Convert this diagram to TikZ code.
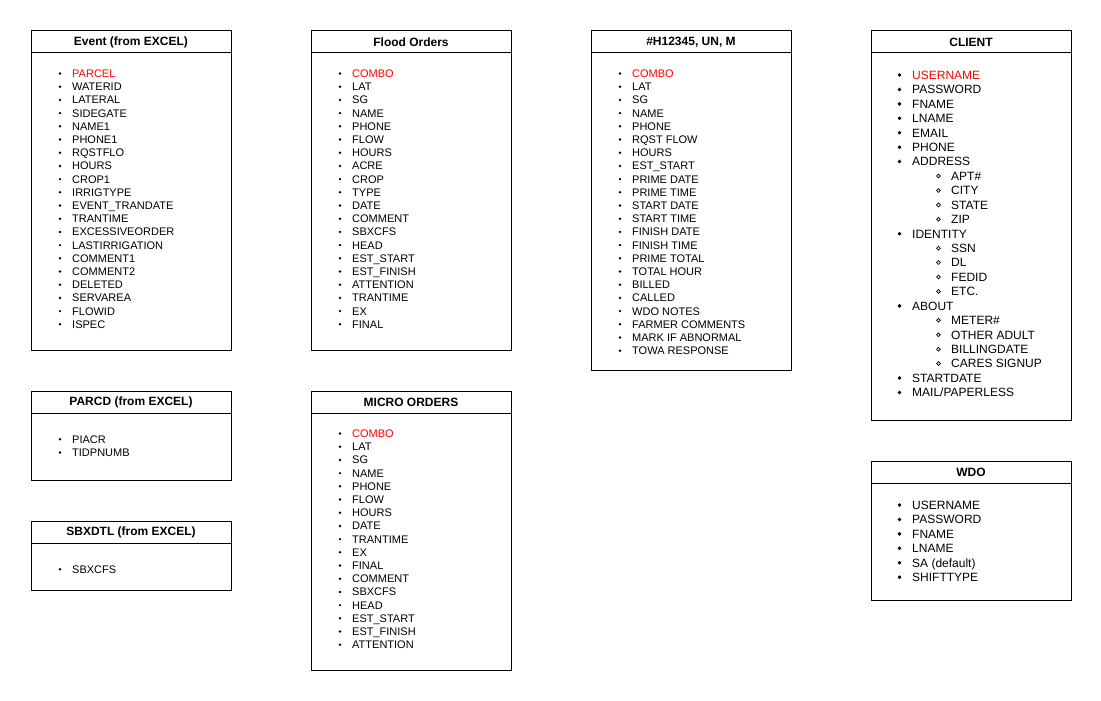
\documentclass[tikz,border=0pt]{standalone}
\usepackage{fontspec}
\setmainfont{Liberation Sans}
\usetikzlibrary{positioning}

\begin{document}
\begin{tikzpicture}[x=1pt,y=-1pt]
    \tikzstyle{head}=[draw,line width=1pt,minimum width=200pt,minimum height=22pt,inner sep=0pt,outer sep=0pt,anchor=north west,font=\fontsize{12}{14}\selectfont\bfseries]
    \tikzstyle{body}=[draw,line width=1pt,minimum width=200pt,inner sep=0pt,outer sep=0pt,below=0pt of #1]
    \tikzstyle{field}=[anchor=west,inner sep=0pt,text height=8pt,text depth=0pt,font=\fontsize{11}{13}\selectfont]
    \tikzstyle{cfield}=[anchor=west,inner sep=0pt,text height=8.6pt,text depth=0pt,font=\fontsize{12}{14}\selectfont]
    \tikzstyle{keyred}=[text=red]
    \tikzstyle{bulletdot}=[fill=black]
    \tikzstyle{bulletring}=[draw=black,line width=.7pt]
    \useasboundingbox (0,0) rectangle (1101,701);

    % Event (from EXCEL)
    \node[head] (evh) at (31,31) {Event (from EXCEL)};
    \node[body=evh,minimum height=297pt] (evb) {};
    \node[field,keyred] (ev0) at (72,73.5) {PARCEL};
    \foreach \t [count=\i] in {WATERID,LATERAL,SIDEGATE,NAME1,PHONE1,RQSTFLO,HOURS,CROP1,IRRIGTYPE,EVENT\_TRANDATE,TRANTIME,EXCESSIVEORDER,LASTIRRIGATION,COMMENT1,COMMENT2,DELETED,SERVAREA,FLOWID,ISPEC}
        \node[field] (ev\i) at (72,73.5+13.2*\i) {\t};
    \foreach \i in {0,...,19}
        \fill ([xshift=-12pt]ev\i.west) circle (1.35pt);

    % Flood Orders
    \node[head] (flh) at (311,31) {Flood Orders};
    \node[body=flh,minimum height=297pt] (flb) {};
    \node[field,keyred] (fl0) at (352,73.5) {COMBO};
    \foreach \t [count=\i] in {LAT,SG,NAME,PHONE,FLOW,HOURS,ACRE,CROP,TYPE,DATE,COMMENT,SBXCFS,HEAD,EST\_START,EST\_FINISH,ATTENTION,TRANTIME,EX,FINAL}
        \node[field] (fl\i) at (352,73.5+13.2*\i) {\t};
    \foreach \i in {0,...,19}
        \fill ([xshift=-12pt]fl\i.west) circle (1.35pt);

    % #H12345, UN, M
    \node[head] (hxh) at (591,31) {\#H12345, UN, M};
    \node[body=hxh,minimum height=317pt] (hxb) {};
    \node[field,keyred] (hx0) at (632,73.5) {COMBO};
    \foreach \t [count=\i] in {LAT,SG,NAME,PHONE,RQST FLOW,HOURS,EST\_START,PRIME DATE,PRIME TIME,START DATE,START TIME,FINISH DATE,FINISH TIME,PRIME TOTAL,TOTAL HOUR,BILLED,CALLED,WDO NOTES,FARMER COMMENTS,MARK IF ABNORMAL,TOWA RESPONSE}
        \node[field] (hx\i) at (632,73.5+13.2*\i) {\t};
    \foreach \i in {0,...,21}
        \fill ([xshift=-12pt]hx\i.west) circle (1.35pt);

    % CLIENT
    \node[head] (clh) at (871,31) {CLIENT};
    \node[body=clh,minimum height=367pt] (clb) {};
    \node[cfield,keyred] (cl0) at (912,75) {USERNAME};
    \fill ([xshift=-12.5pt]cl0.west) circle (1.9pt);
    \foreach \dx/\bul/\t [count=\i] in {0/bulletdot/PASSWORD,0/bulletdot/FNAME,0/bulletdot/LNAME,0/bulletdot/EMAIL,0/bulletdot/PHONE,0/bulletdot/ADDRESS,
            39/bulletring/APT\#,39/bulletring/CITY,39/bulletring/STATE,39/bulletring/ZIP,0/bulletdot/IDENTITY,
            39/bulletring/SSN,39/bulletring/DL,39/bulletring/FEDID,39/bulletring/ETC.,0/bulletdot/ABOUT,
            39/bulletring/METER\#,39/bulletring/OTHER ADULT,39/bulletring/BILLINGDATE,39/bulletring/CARES SIGNUP,
            0/bulletdot/STARTDATE,0/bulletdot/{MAIL/PAPERLESS}}
    {
        \node[cfield] (cl\i) at (912+\dx,75+14.43*\i) {\t};
        \path[\bul] ([xshift=-12.5pt]cl\i.west) circle (1.9pt);
    }

    % PARCD (from EXCEL)
    \node[head] (pah) at (31,391) {PARCD (from EXCEL)};
    \node[body=pah,minimum height=67pt] (pab) {};
    \node[field] (pa0) at (72,439.3) {PIACR};
    \node[field] (pa1) at (72,452.5) {TIDPNUMB};
    \foreach \i in {0,1}
        \fill ([xshift=-12pt]pa\i.west) circle (1.35pt);

    % SBXDTL (from EXCEL)
    \node[head] (sbh) at (31,521) {SBXDTL (from EXCEL)};
    \node[body=sbh,minimum height=47pt] (sbb) {};
    \node[field] (sb0) at (72,569.3) {SBXCFS};
    \fill ([xshift=-12pt]sb0.west) circle (1.35pt);

    % MICRO ORDERS
    \node[head] (mih) at (311,391) {MICRO ORDERS};
    \node[body=mih,minimum height=257pt] (mib) {};
    \node[field,keyred] (mi0) at (352,433.5) {COMBO};
    \foreach \t [count=\i] in {LAT,SG,NAME,PHONE,FLOW,HOURS,DATE,TRANTIME,EX,FINAL,COMMENT,SBXCFS,HEAD,EST\_START,EST\_FINISH,ATTENTION}
        \node[field] (mi\i) at (352,433.5+13.2*\i) {\t};
    \foreach \i in {0,...,16}
        \fill ([xshift=-12pt]mi\i.west) circle (1.35pt);

    % WDO
    \node[head] (wdh) at (871,461) {WDO};
    \node[body=wdh,minimum height=117pt] (wdb) {};
    \foreach \t [count=\i from 0] in {USERNAME,PASSWORD,FNAME,LNAME,SA (default),SHIFTTYPE}
    {
        \node[cfield] (wd\i) at (912,505+14.43*\i) {\t};
        \fill ([xshift=-12.5pt]wd\i.west) circle (1.9pt);
    }
\end{tikzpicture}
\end{document}
